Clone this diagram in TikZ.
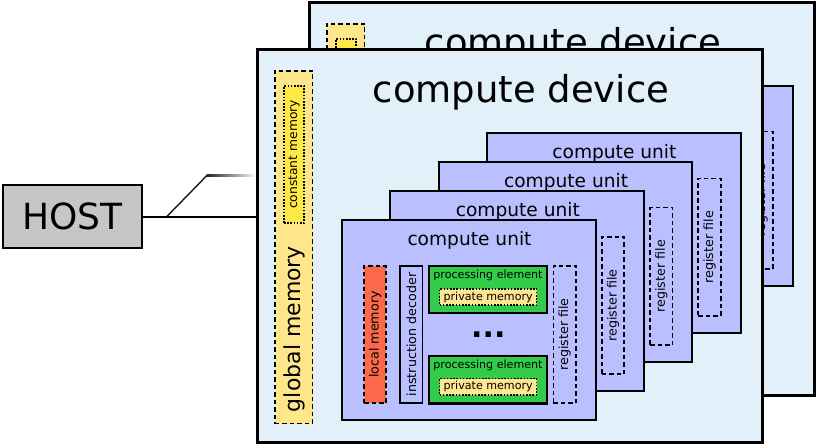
\documentclass[tikz,border=0pt]{standalone}
\usepackage{fontspec}
\setmainfont{DejaVu Sans}
\usetikzlibrary{calc}
\definecolor{devfill}{HTML}{E2F1F9}
\definecolor{cufill}{HTML}{BABFFF}
\definecolor{lmfill}{HTML}{FA6A4A}
\definecolor{pefill}{HTML}{33CC4A}
\definecolor{pmfill}{HTML}{FFE690}
\definecolor{gmfill}{HTML}{FFE68A}
\definecolor{cmfill}{HTML}{FFE945}
\definecolor{hostfill}{HTML}{C6C6C6}
\tikzset{
  base/.style={inner sep=0pt, outer sep=0pt},
  dashpat/.style={dash pattern=on 4.5pt off 3pt},
  dotpat/.style={dash pattern=on 1.6pt off 1.6pt},
  devbox/.style={base, draw=black, line width=2.6pt, fill=devfill, minimum width=505pt, minimum height=392.5pt},
  devtitle/.style={base, font=\fontsize{37}{40}\selectfont},
  gmbox/.style={base, draw=black, line width=1.8pt, dashpat, fill=gmfill, minimum width=37.8pt, minimum height=352.8pt},
  cmbox/.style={base, draw=black, line width=1.7pt, dotpat, fill=cmfill, minimum width=20.2pt, minimum height=137.5pt},
  cmlab/.style={base, rotate=90, font=\fontsize{12.3}{14}\selectfont},
  gmlab/.style={base, rotate=90, font=\fontsize{22}{24}\selectfont},
  cubox/.style={base, draw=black, line width=2pt, fill=cufill, minimum width=253.7pt, minimum height=199.7pt},
  cutitle/.style={base, font=\fontsize{18.6}{20}\selectfont},
  lmbox/.style={base, draw=black, line width=1.8pt, dashpat, fill=lmfill, minimum width=21.9pt, minimum height=137.5pt},
  idbox/.style={base, draw=black, line width=1.6pt, fill=cufill, minimum width=22.5pt, minimum height=137.5pt},
  rfbox/.style={base, draw=black, line width=1.8pt, dashpat, minimum width=22.5pt, minimum height=137.5pt},
  vlab/.style={base, rotate=90, font=\fontsize{12.7}{14}\selectfont},
  pebox/.style={base, draw=black, line width=2.2pt, fill=pefill, minimum width=118.6pt, minimum height=47.3pt},
  pmbox/.style={base, draw=black, line width=1.4pt, dotpat, fill=pmfill, minimum width=97.1pt, minimum height=16.2pt},
  smlab/.style={base, font=\fontsize{11.1}{12}\selectfont},
  ellip/.style={base, font=\fontsize{30}{32}\selectfont\bfseries},
  hostbox/.style={base, draw=black, line width=2pt, fill=hostfill, minimum width=139.6pt, minimum height=63.3pt, font=\fontsize{36}{40}\selectfont},
  conn/.style={line width=1.7pt, black}
}
% a compute unit seen from behind: only box, title and register file show
\newcommand\drawCUback[2]{%
  \begin{scope}[shift={({#2*48.3},{-#2*29.1})}]
    \node[cubox] (#1) at (468.85,320.15) {};
    \node[cutitle] (#1-t) at (469.5,240.7) {compute unit};
    \node[rfbox] (#1-rf) at (564.7,334.5) {};
    \node[vlab] (#1-rft) at (#1-rf) {register file};
  \end{scope}}
% the front compute unit, fully visible
\newcommand\drawCUfull[1]{%
  \node[cubox] (#1) at (468.85,320.15) {};
  \node[cutitle] (#1-t) at (469.5,240.7) {compute unit};
  \node[lmbox] (#1-lm) at (375,334.5) {};
  \node[vlab] (#1-lmt) at (#1-lm) {local memory};
  \node[idbox] (#1-id) at (411.3,334.5) {};
  \node[vlab] (#1-idt) at (#1-id) {instruction decoder};
  \node[pebox] (#1-pe1) at (488,289.65) {};
  \node[smlab] (#1-pe1t) at (488,275.3) {processing element};
  \node[pmbox] (#1-pm1) at (488.15,297) {};
  \node[smlab] (#1-pm1t) at (#1-pm1) {private memory};
  \node[ellip] (#1-dots) at (488.3,335) {...};
  \node[pebox] (#1-pe2) at (488,379.8) {};
  \node[smlab] (#1-pe2t) at (488,365.5) {processing element};
  \node[pmbox] (#1-pm2) at (488.15,386.8) {};
  \node[smlab] (#1-pm2t) at (#1-pm2) {private memory};
  \node[rfbox] (#1-rf) at (564.7,334.5) {};
  \node[vlab] (#1-rft) at (#1-rf) {register file};}
\begin{document}
\begin{tikzpicture}[x=1pt,y=-1pt]
  \useasboundingbox (0,0) rectangle (817,446);
  % back compute device (mostly hidden)
  \begin{scope}[shift={(52,-47)}]
    \node[devbox] (bdev) at (509.75,246) {};
    \node[devtitle] (btitle) at (521,92.5) {compute device};
    \node[gmbox] (bgm) at (293.65,247.15) {};
    \node[cmbox] (bcm) at (294.15,154.5) {};
    \drawCUback{bcu3}{3}
  \end{scope}
  % host and its links
  \node[hostbox] (host) at (72.5,216.7) {HOST};
  \coordinate (j1) at (166.7,216.7);
  \coordinate (j2) at (206.7,175.7);
  \coordinate (j3) at (254,175.7);
  \draw[line width=1.4pt, black!90] (j1) -- (j2);
  \shade[left color=black!85, right color=black!5] ($(j2)+(0,-0.75)$) rectangle ($(j3)+(0,0.75)$);
  % front compute device
  \node[devbox] (fdev) at (509.75,246) {};
  \node[devtitle] (ftitle) at (521,92.5) {compute device};
  \node[gmbox] (fgm) at (293.65,247.15) {};
  \node[cmbox] (fcm) at (294.15,154.5) {};
  \node[cmlab] (fcmt) at (fcm) {constant memory};
  \node[gmlab] (fgmt) at (294,329) {global memory};
  \drawCUback{fcu3}{3}
  \drawCUback{fcu2}{2}
  \drawCUback{fcu1}{1}
  \drawCUfull{fcu0}
  \draw[conn] (host.east) -- (host.east -| fdev.west);
\end{tikzpicture}
\end{document}
